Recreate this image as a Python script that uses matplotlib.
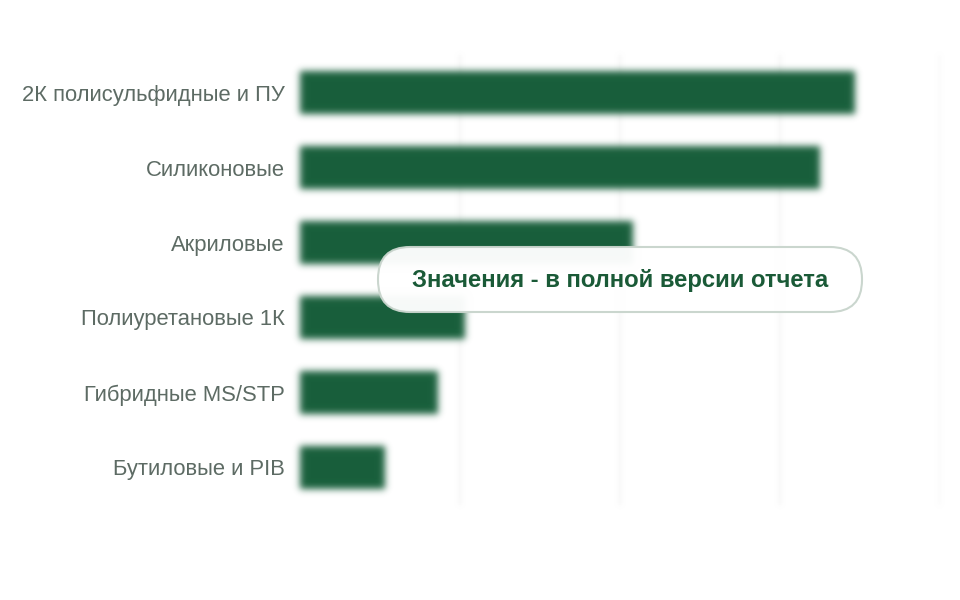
import matplotlib
matplotlib.use("Agg")
import matplotlib.pyplot as plt
import numpy as np
from matplotlib.patches import FancyBboxPatch
from matplotlib.transforms import IdentityTransform

categories = ["2К полисульфидные и ПУ", "Силиконовые", "Акриловые",
              "Полиуретановые 1К", "Гибридные MS/STP", "Бутиловые и PIB"]
values = [34.7, 32.5, 20.8, 10.3, 8.6, 5.3]
x_max = 40
x_ticks = [0, 10, 20, 30, 40]

bar_color = "#185f3b"
label_color = "#5d6b64"
note_text = "Значения - в полной версии отчета"


def gaussian_blur(sigma_px):
    # agg_filter: soft, blurred look of the marks (premultiplied alpha)
    def _filter(im, dpi):
        sigma = sigma_px * dpi / 100.0
        pad = int(3 * sigma) + 1
        src = np.pad(im, [(pad, pad), (pad, pad), (0, 0)], "constant")
        src[..., :3] *= src[..., 3:4]
        k = np.arange(-pad, pad + 1)
        w = np.exp(-0.5 * (k / sigma) ** 2)
        w /= w.sum()
        out = np.zeros_like(src)
        for off, wi in zip(k, w):
            out += wi * np.roll(src, off, axis=0)
        out2 = np.zeros_like(out)
        for off, wi in zip(k, w):
            out2 += wi * np.roll(out, off, axis=1)
        a = out2[..., 3:4]
        out2[..., :3] = np.where(a > 1e-6, out2[..., :3] / np.maximum(a, 1e-6), 0)
        return np.clip(out2, 0, 1), -pad, -pad
    return _filter


plt.rcParams["font.family"] = ["Liberation Sans", "DejaVu Sans"]
fig = plt.figure(figsize=(9.6, 6), dpi=100)
ax = fig.add_axes([300 / 960, 95 / 600, 640 / 960, 450 / 600])

y = np.arange(len(categories))
bars = ax.barh(y, values, height=0.57, color=bar_color)
for b in bars:
    b.set_agg_filter(gaussian_blur(3.5))

for t in x_ticks[1:]:
    ln = ax.axvline(t, color="#f3f3f3", lw=1.5, zorder=0)
    ln.set_agg_filter(gaussian_blur(2.0))

ax.set_xlim(0, x_max)
ax.set_ylim(len(categories) - 0.5, -0.5)
ax.set_yticks(y)
ax.set_yticklabels(categories, fontsize=15.8, color=label_color)
ax.set_xticks([])
ax.tick_params(axis="y", length=0, pad=11)
for s in ax.spines.values():
    s.set_visible(False)

# overlay note box (pixel coordinates)
box = FancyBboxPatch((378, 288), 484, 65,
                     boxstyle="round,pad=0,rounding_size=32",
                     transform=IdentityTransform(), facecolor="white",
                     edgecolor="#c9d5cd", lw=1.5, alpha=0.97, zorder=10)
fig.patches.append(box)
fig.text(620 / 960, 320 / 600, note_text, ha="center", va="center",
         fontsize=17.2, fontweight="bold", color="#1a5a37", zorder=11)

fig.savefig("out.png", dpi=100)
